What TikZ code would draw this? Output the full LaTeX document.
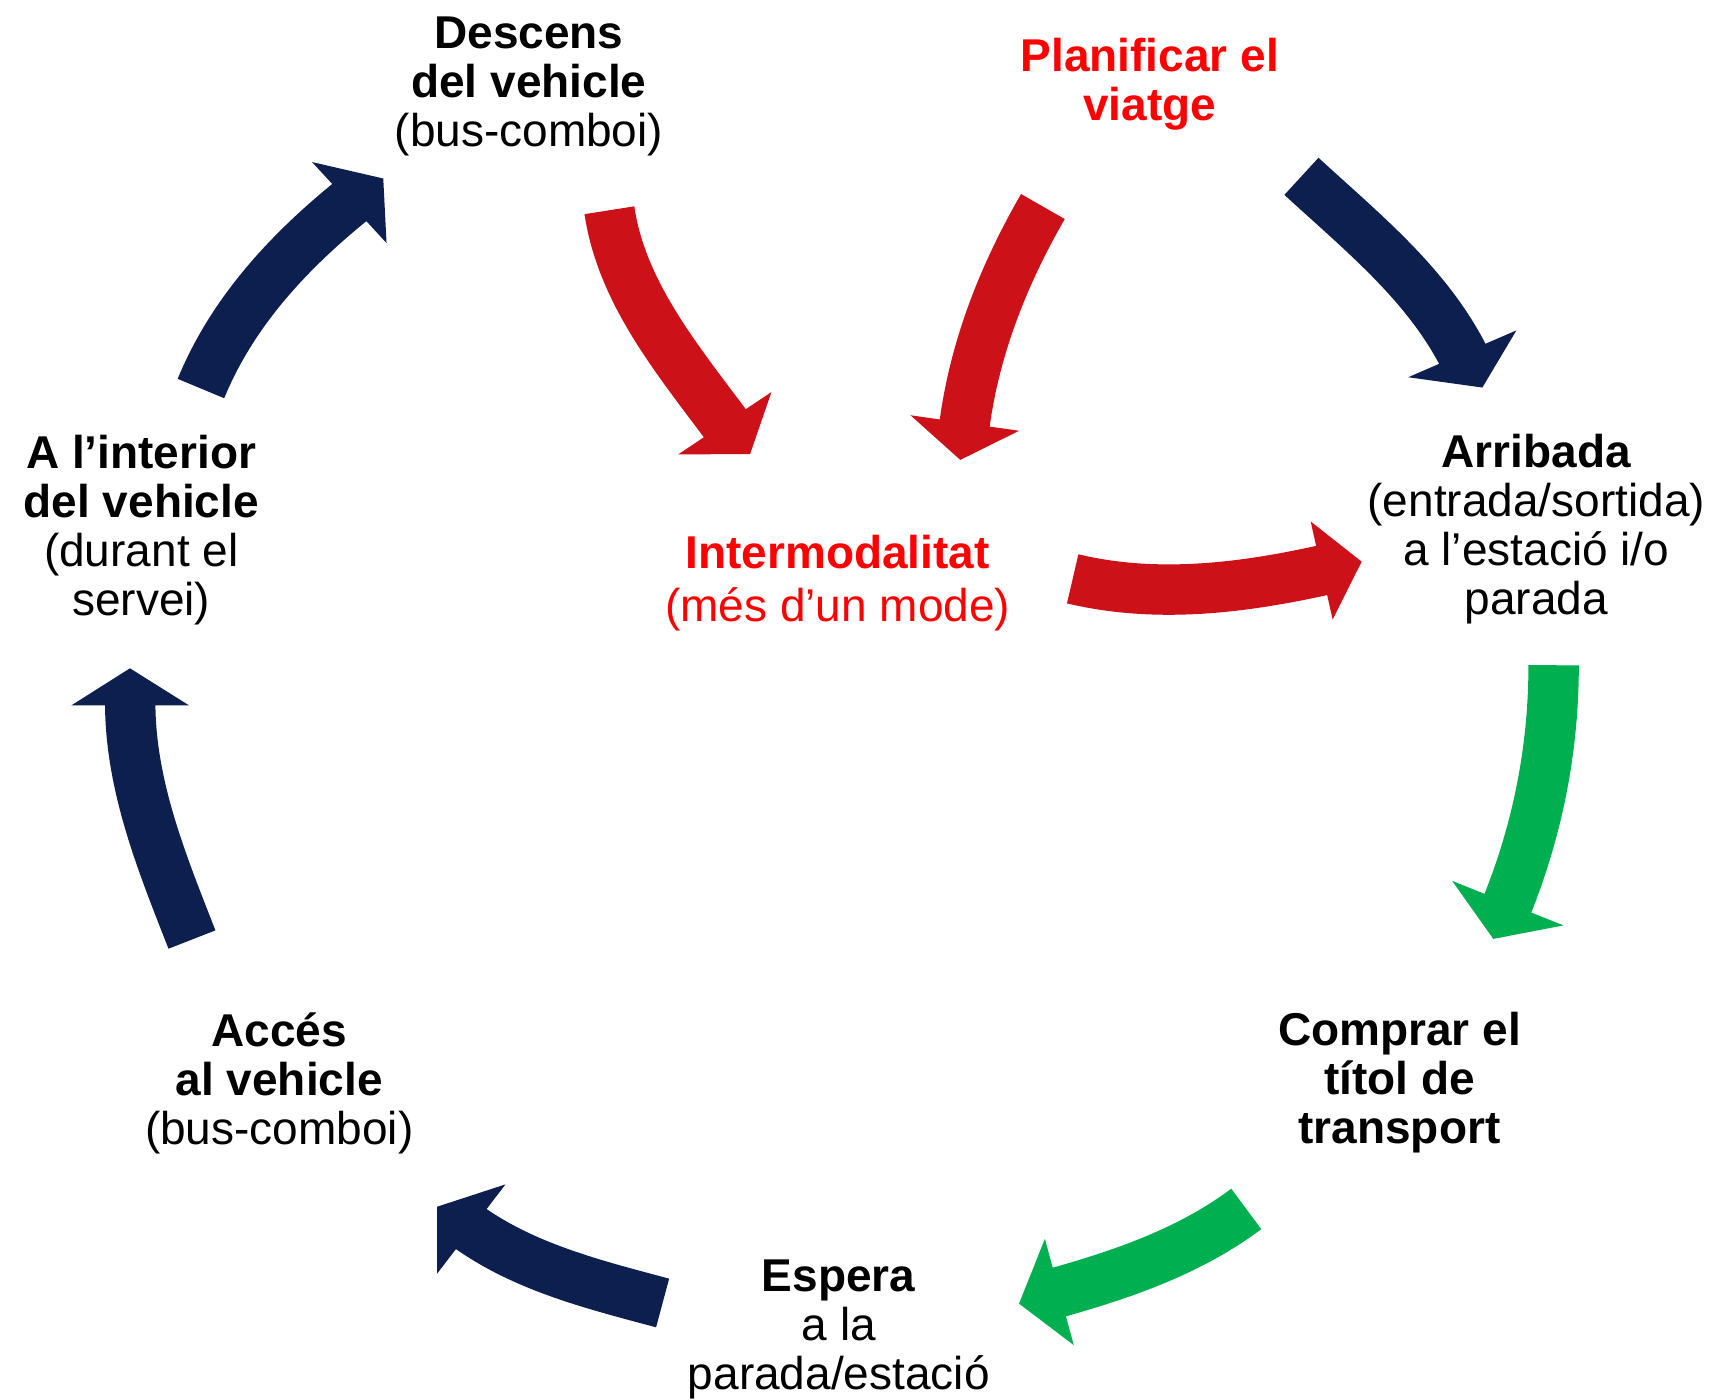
\documentclass[tikz,border=0pt]{standalone}
\usepackage{fontspec}
\setmainfont{Liberation Sans}
\definecolor{navy}{RGB}{12,31,78}
\definecolor{arrred}{RGB}{205,17,25}
\definecolor{arrgreen}{RGB}{0,176,80}
\definecolor{txtred}{RGB}{255,0,0}
\begin{document}
\begin{tikzpicture}[x=0.5476pt,y=-0.5476pt,
  lbl/.style={align=center,font=\fontsize{23}{24.5}\selectfont,inner sep=0pt},
  redlbl/.style={lbl,text=txtred},
  arrshaft/.style={line width=25.2pt},
  arrhead/.style={draw=none}]
\useasboundingbox (0,0) rectangle (1568,1278);

% labels
\node[lbl] (descens) at (483,78.5) {\textbf{Descens}\\\textbf{del vehicle}\\(bus-comboi)};
\node[redlbl] (planif) at (1050,77) {\textbf{Planificar el}\\\textbf{viatge}};
\node[lbl] (interior) at (129,484) {\textbf{A l’interior}\\\textbf{del vehicle}\\(durant el\\servei)};
\node[redlbl] (intermod) at (765,532.5) {\textbf{Intermodalitat}\\[1.6pt](més d’un mode)};
\node[lbl] (arribada) at (1403,483.5) {\textbf{Arribada}\\(entrada/sortida)\\a l’estació i/o\\parada};
\node[lbl] (comprar) at (1278,988.5) {\textbf{Comprar el}\\\textbf{títol de}\\\textbf{transport}};
\node[lbl] (acces) at (255,989) {\textbf{Accés}\\\textbf{al vehicle}\\(bus-comboi)};
\node[lbl] (espera) at (766,1214.5) {\textbf{Espera}\\a la\\parada/estació};

% arrow 1: interior -> descens
\coordinate (a1s) at (183.5,354.8); \coordinate (a1e) at (321.3,183.1);
\coordinate (a1p) at (285,148); \coordinate (a1t) at (350,163); \coordinate (a1q) at (353,222);
\draw[arrshaft,navy] (a1s) .. controls (212,285.4) and (263,230.3) .. (a1e);
\fill[navy] (a1p) -- (a1t) -- (a1q) -- cycle;

% arrow 2: descens -> intermodalitat
\coordinate (a2s) at (556.5,192); \coordinate (a2e) at (663.7,388.9);
\coordinate (a2p) at (619.3,415); \coordinate (a2t) at (685,414.6); \coordinate (a2q) at (704.5,358);
\draw[arrshaft,arrred] (a2s) .. controls (567.7,267.2) and (618.3,327.9) .. (a2e);
\fill[arrred] (a2p) -- (a2t) -- (a2q) -- cycle;

% arrow 3: planificar -> intermodalitat
\coordinate (a3s) at (952.4,188.6); \coordinate (a3e) at (880.6,389.3);
\coordinate (a3p) at (831.4,379.2); \coordinate (a3t) at (877,420); \coordinate (a3q) at (930.6,393.4);
\draw[arrshaft,arrred] (a3s) .. controls (916.4,251) and (889.9,317.9) .. (a3e);
\fill[arrred] (a3p) -- (a3t) -- (a3q) -- cycle;

% arrow 4: top right -> arribada
\coordinate (a4s) at (1188.5,161); \coordinate (a4e) at (1336.8,325.8);
\coordinate (a4p) at (1286,344.5); \coordinate (a4t) at (1353.7,353.9); \coordinate (a4q) at (1384.8,301.7);
\draw[arrshaft,navy] (a4s) .. controls (1243.7,211.8) and (1302.7,259) .. (a4e);
\fill[navy] (a4p) -- (a4t) -- (a4q) -- cycle;

% arrow 5: intermodalitat -> arribada
\coordinate (a5s) at (979.6,528.6); \coordinate (a5e) at (1209.9,520.3);
\coordinate (a5p) at (1196.9,476.2); \coordinate (a5t) at (1243.5,512.9); \coordinate (a5q) at (1217,565.8);
\draw[arrshaft,arrred] (a5s) .. controls (1055.5,546.7) and (1133.8,537.3) .. (a5e);
\fill[arrred] (a5p) -- (a5t) -- (a5q) -- cycle;

% arrow 6: arribada -> comprar
\coordinate (a6s) at (1418.8,607.5); \coordinate (a6e) at (1375.9,827.6);
\coordinate (a6p) at (1326.1,804.4); \coordinate (a6t) at (1363.7,857.4); \coordinate (a6q) at (1427.8,845.1);
\draw[arrshaft,arrgreen] (a6s) .. controls (1418.8,683.5) and (1404.4,757.1) .. (a6e);
\fill[arrgreen] (a6p) -- (a6t) -- (a6q) -- cycle;

% arrow 7: comprar -> espera
\coordinate (a7s) at (1138.1,1104); \coordinate (a7e) at (964.5,1180.7);
\coordinate (a7p) at (954.2,1131.3); \coordinate (a7t) at (930.6,1190.5); \coordinate (a7q) at (980.6,1228.4);
\draw[arrshaft,arrgreen] (a7s) .. controls (1086.9,1142.4) and (1026.1,1163.4) .. (a7e);
\fill[arrgreen] (a7p) -- (a7t) -- (a7q) -- cycle;

% arrow 8: espera -> acces
\coordinate (a8s) at (605.1,1189.9); \coordinate (a8e) at (428,1120.7);
\coordinate (a8p) at (461.6,1081.6); \coordinate (a8t) at (399.1,1102); \coordinate (a8q) at (399.1,1163.2);
\draw[arrshaft,navy] (a8s) .. controls (543.3,1173.3) and (480.2,1157.8) .. (a8e);
\fill[navy] (a8p) -- (a8t) -- (a8q) -- cycle;

% arrow 9: acces -> interior
\coordinate (a9s) at (175.3,858); \coordinate (a9e) at (118.9,641.2);
\coordinate (a9p) at (65.1,644.2); \coordinate (a9t) at (118.7,610.3); \coordinate (a9q) at (172.7,644.2);
\draw[arrshaft,navy] (a9s) .. controls (147.6,787.2) and (118.9,717.2) .. (a9e);
\fill[navy] (a9p) -- (a9t) -- (a9q) -- cycle;
\end{tikzpicture}
\end{document}
